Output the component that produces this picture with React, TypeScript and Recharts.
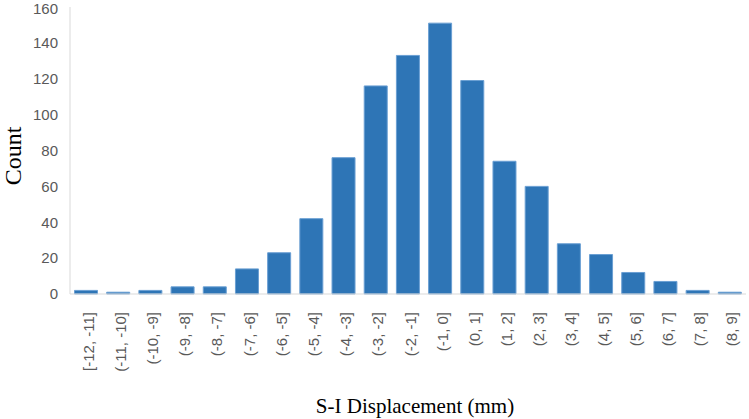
import React from 'react';
import { BarChart, Bar, XAxis, YAxis, Label } from 'recharts';

const categories = ['[-12, -11]', '(-11, -10]', '(-10, -9]', '(-9, -8]', '(-8, -7]', '(-7, -6]', '(-6, -5]', '(-5, -4]', '(-4, -3]', '(-3, -2]', '(-2, -1]', '(-1, 0]', '(0, 1]', '(1, 2]', '(2, 3]', '(3, 4]', '(4, 5]', '(5, 6]', '(6, 7]', '(7, 8]', '(8, 9]'];
const counts = [2, 1, 2, 4, 4, 14, 23, 42, 76, 116, 133, 151, 119, 74, 60, 28, 22, 12, 7, 2, 1];
const yTicks = [0, 20, 40, 60, 80, 100, 120, 140, 160];
const xTitle = 'S-I Displacement (mm)';
const yTitle = 'Count';

const data = categories.map((c, i) => ({ name: c, count: counts[i] }));

const SANS = 'Liberation Sans, Arial, sans-serif';
const SERIF = 'Liberation Serif, Times New Roman, serif';

const XTick = (props: any) => {
  const { x, y, payload } = props;
  return (
    <text
      x={0}
      y={0}
      transform={`translate(${x + 2},${y + 10}) rotate(-90)`}
      textAnchor="end"
      dominantBaseline="central"
      fill="#595959"
      fontSize={15}
      fontFamily={SANS}
    >
      {payload.value}
    </text>
  );
};

export default function App() {
  return (
    <div style={{ position: 'absolute', left: 0, top: 0, width: 749, height: 419, background: '#fff' }}>
      <BarChart
        width={749}
        height={419}
        data={data}
        margin={{ top: 7, right: 3, bottom: 10, left: 0 }}
        barCategoryGap="14%"
      >
        <XAxis
          dataKey="name"
          interval={0}
          tickLine={false}
          axisLine={{ stroke: '#d9d9d9' }}
          tick={<XTick />}
          height={115}
        >
          <Label
            content={() => (
              <text x={415} y={413} textAnchor="middle" fill="#000" fontSize={21} fontFamily={SERIF}>
                {xTitle}
              </text>
            )}
          />
        </XAxis>
        <YAxis
          width={70}
          domain={[0, 160]}
          ticks={yTicks}
          tickLine={false}
          axisLine={{ stroke: '#d9d9d9' }}
          tick={{ fill: '#595959', fontSize: 15, fontFamily: SANS }}
          tickMargin={6}
        >
          <Label
            content={() => (
              <text
                x={0}
                y={0}
                transform="translate(21,156) rotate(-90)"
                textAnchor="middle"
                fill="#000"
                fontSize={24}
                fontFamily={SERIF}
              >
                {yTitle}
              </text>
            )}
          />
        </YAxis>
        <Bar dataKey="count" fill="#2e75b6" stroke="#6a9fd3" strokeWidth={1} isAnimationActive={false} />
      </BarChart>
    </div>
  );
}
